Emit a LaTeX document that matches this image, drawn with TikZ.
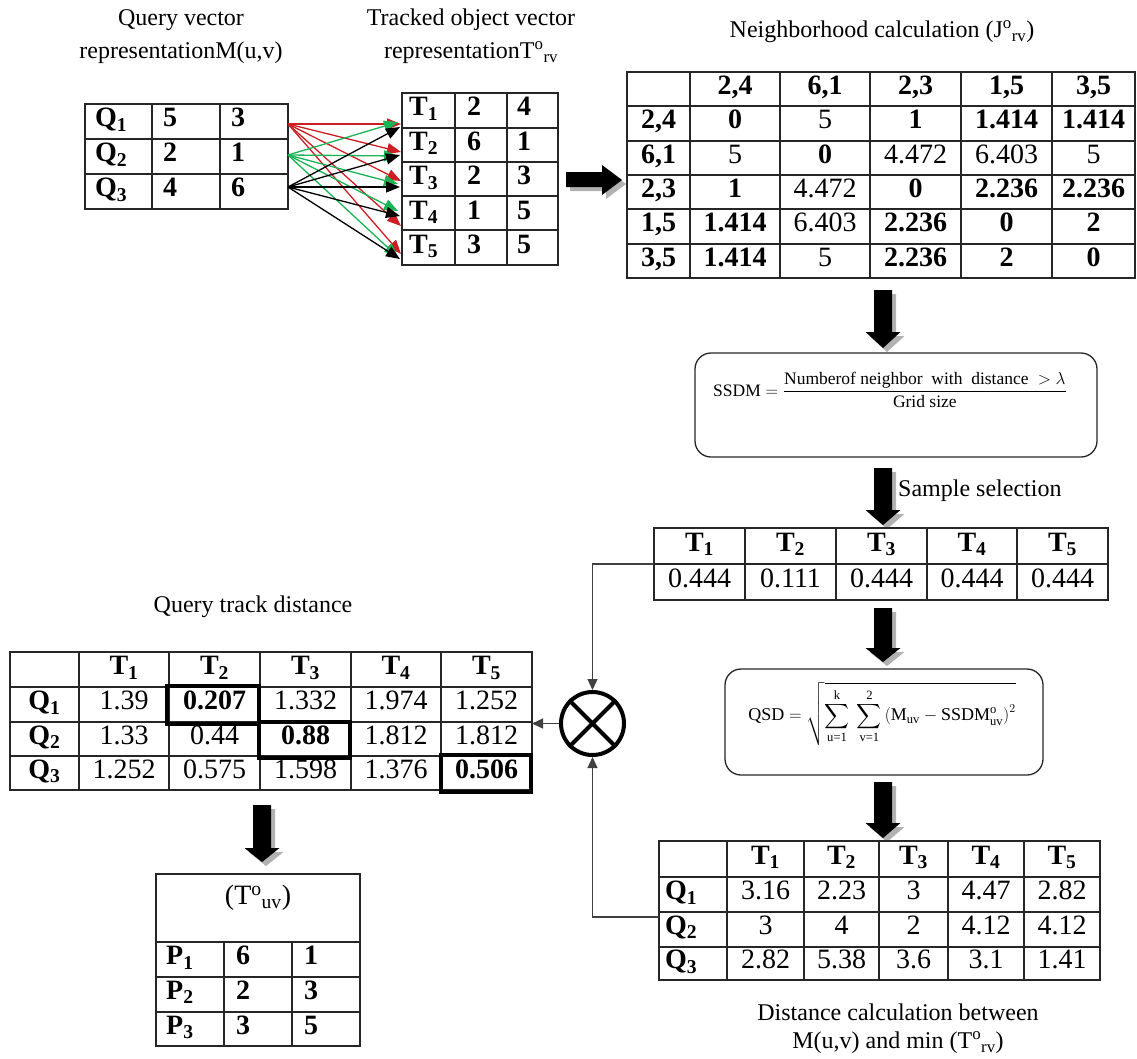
\documentclass[tikz,border=0pt]{standalone}
\usepackage{amsmath}
\usepackage{fontspec}
\setmainfont{Liberation Serif}
\usetikzlibrary{arrows.meta}
\definecolor{ared}{RGB}{205,30,35}
\definecolor{agreen}{RGB}{25,180,85}
\newcommand\blkdown[4]{%
  \fill[black!30] ({#1-9+4},{#2+4}) -- ({#1+9+4},{#2+4}) -- ({#1+9+4},{#3+4}) -- ({#1+17.5+4},{#3+4}) -- ({#1+4},{#4+4}) -- ({#1-17.5+4},{#3+4}) -- ({#1-9+4},{#3+4}) -- cycle;
  \fill[black] ({#1-9},{#2}) -- ({#1+9},{#2}) -- ({#1+9},{#3}) -- ({#1+17.5},{#3}) -- (#1,#4) -- ({#1-17.5},{#3}) -- ({#1-9},{#3}) -- cycle;}
\newcommand\Tor{T\textsuperscript{o}\textsubscript{rv}}
\begin{document}
\begin{tikzpicture}[x=1pt,y=-1pt,
  ttl/.style={font=\fontsize{24}{26}\selectfont, inner sep=0},
  cb/.style={font=\fontsize{28}{30}\selectfont\bfseries, inner sep=0, anchor=mid, yshift=-3pt},
  cn/.style={font=\fontsize{28}{30}\selectfont, inner sep=0, anchor=mid, yshift=-3pt},
  cbl/.style={cb, anchor=mid west},
  gl/.style={draw=black!85, line width=1.3pt},
  frame/.style={draw=black!85, line width=1.3pt, inner sep=0, outer sep=0},
  thickbox/.style={draw=black, line width=4pt},
  conn/.style={draw=black!75, line width=1.3pt, -{Triangle[length=11pt,width=10pt]}},
  qa/.style={line width=1.3pt, -{Triangle[length=14pt,width=11pt]}},
  fbox/.style={draw=black!85, line width=1.3pt, rounded corners=16pt, inner sep=0, outer sep=0}
]
\useasboundingbox (0,0) rectangle (1137,1058);

% ---------- titles ----------
\node[ttl] (t1a) at (181,20) {Query vector};
\node[ttl] (t1b) at (181,53) {representationM(u,v)};
\node[ttl] (t2a) at (471,20) {Tracked object vector};
\node[ttl] (t2b) at (471,53) {representation\Tor};
\node[ttl] (t3) at (882,32) {Neighborhood calculation (J\textsuperscript{o}\textsubscript{rv})};

% ---------- Query table ----------
\node[frame, minimum width=203pt, minimum height=105pt] (Qtab) at (186.5,156.5) {};
\foreach \xx in {152,220} \draw[gl] (\xx,104) -- (\xx,209);
\foreach \yy in {139,174} \draw[gl] (85,\yy) -- (288,\yy);
\foreach \ra/\xa/\xb [count=\i] in {1/5/3, 2/2/1, 3/4/6}{
  \pgfmathsetmacro\yy{121.5+35*(\i-1)}
  \node[cbl] (qc\i a) at (95,\yy) {Q\textsubscript{\ra}};
  \node[cbl] (qc\i b) at (163,\yy) {\xa};
  \node[cbl] (qc\i c) at (231,\yy) {\xb};
}

% ---------- Tracked table ----------
\node[frame, minimum width=156pt, minimum height=172pt] (Ttab) at (480,179) {};
\foreach \xx in {455,507} \draw[gl] (\xx,93) -- (\xx,265);
\foreach \yy in {128,162,196,230} \draw[gl] (402,\yy) -- (558,\yy);
\foreach \ra/\xa/\xb [count=\i] in {1/2/4, 2/6/1, 3/2/3, 4/1/5, 5/3/5}{
  \pgfmathsetmacro\yy{110.5+34.4*(\i-1)}
  \node[cbl] (tc\i a) at (409,\yy) {T\textsubscript{\ra}};
  \node[cbl] (tc\i b) at (467,\yy) {\xa};
  \node[cbl] (tc\i c) at (517,\yy) {\xb};
}

% ---------- coloured arrows ----------
\coordinate (s1) at (288,124);
\coordinate (s2) at (288,155);
\coordinate (s3) at (288,187);
\foreach \ty [count=\i] in {124,152,181,226,254} \coordinate (r\i) at (401,\ty);
\foreach \ty [count=\i] in {122,156,184,211,257} \coordinate (g\i) at (398,\ty);
\foreach \ty [count=\i] in {127,155,187,216,259} \coordinate (k\i) at (400,\ty);
\foreach \i in {1,...,5} \draw[qa, ared] (s1) -- (r\i);
\foreach \i in {1,...,5} \draw[qa, agreen] (s2) -- (g\i);
\foreach \i in {1,...,5} \draw[qa, black] (s3) -- (k\i);

% ---------- right block arrow ----------
\fill[black!30] (570,176) -- (606,176) -- (606,169) -- (626,184) -- (606,199) -- (606,191) -- (570,191) -- cycle;
\fill[black] (566,172) -- (602,172) -- (602,165) -- (622,180) -- (602,195) -- (602,187) -- (566,187) -- cycle;

% ---------- Neighborhood table ----------
\node[frame, minimum width=508pt, minimum height=206pt] (Ntab) at (881,175) {};
\foreach \xx in {690,780,870,961,1052} \draw[gl] (\xx,72) -- (\xx,278);
\foreach \yy in {106,141,175,209,244} \draw[gl] (627,\yy) -- (1135,\yy);
% header
\node[cb] (n01) at (735,89) {2,4};
\node[cb] (n02) at (825,89) {6,1};
\node[cb] (n03) at (915.5,89) {2,3};
\node[cb] (n04) at (1006.5,89) {1,5};
\node[cb] (n05) at (1093.5,89) {3,5};
% row 2,4
\node[cb] (n10) at (658.5,123.5) {2,4};
\node[cb] (n11) at (735,123.5) {0};
\node[cn] (n12) at (825,123.5) {5};
\node[cb] (n13) at (915.5,123.5) {1};
\node[cb] (n14) at (1006.5,123.5) {1.414};
\node[cb] (n15) at (1093.5,123.5) {1.414};
% row 6,1
\node[cb] (n20) at (658.5,158) {6,1};
\node[cn] (n21) at (735,158) {5};
\node[cb] (n22) at (825,158) {0};
\node[cn] (n23) at (915.5,158) {4.472};
\node[cn] (n24) at (1006.5,158) {6.403};
\node[cn] (n25) at (1093.5,158) {5};
% row 2,3
\node[cb] (n30) at (658.5,192) {2,3};
\node[cb] (n31) at (735,192) {1};
\node[cn] (n32) at (825,192) {4.472};
\node[cb] (n33) at (915.5,192) {0};
\node[cb] (n34) at (1006.5,192) {2.236};
\node[cb] (n35) at (1093.5,192) {2.236};
% row 1,5
\node[cb] (n40) at (658.5,226.5) {1,5};
\node[cb] (n41) at (735,226.5) {1.414};
\node[cn] (n42) at (825,226.5) {6.403};
\node[cb] (n43) at (915.5,226.5) {2.236};
\node[cb] (n44) at (1006.5,226.5) {0};
\node[cb] (n45) at (1093.5,226.5) {2};
% row 3,5
\node[cb] (n50) at (658.5,261) {3,5};
\node[cb] (n51) at (735,261) {1.414};
\node[cn] (n52) at (825,261) {5};
\node[cb] (n53) at (915.5,261) {2.236};
\node[cb] (n54) at (1006.5,261) {2};
\node[cb] (n55) at (1093.5,261) {0};

% ---------- SSDM box ----------
\blkdown{883}{290}{332}{348}
\node[fbox, minimum width=402pt, minimum height=104pt] (F1) at (896,405) {};
\node[inner sep=0, font=\fontsize{17.5}{20}\selectfont] (f1) at (890,390)
  {$\text{SSDM}=\dfrac{\text{Numberof neighbor\ \ with\ \ distance }>\lambda}{\text{Grid size}}$};

% ---------- Sample selection ----------
\blkdown{883}{468}{510}{525}
\node[ttl, anchor=west] (ss) at (898,491) {Sample selection};
\node[frame, minimum width=454pt, minimum height=72pt] (S) at (881,564) {};
\foreach \xx in {745,836,927,1017} \draw[gl] (\xx,528) -- (\xx,600);
\draw[gl] (654,564) -- (1108,564);
\foreach \xx/\vv [count=\i] in {699.5/0.444, 790.5/0.111, 881.5/0.444, 972/0.444, 1062.5/0.444}{
  \node[cb] (sh\i) at (\xx,546) {T\textsubscript{\i}};
  \node[cn] (sv\i) at (\xx,582) {\vv};
}

% ---------- QSD box ----------
\blkdown{883}{608}{648}{662}
\node[fbox, minimum width=318pt, minimum height=106pt] (F2) at (884,722) {};
\node[inner sep=0, font=\fontsize{18}{21}\selectfont] (f2) at (882,714)
  {$\displaystyle \text{QSD}=\sqrt{\sum_{\text{u=1}}^{\text{k}}\ \sum_{\text{v=1}}^{\text{2}}\left(\text{M}_{\text{uv}}-\text{SSDM}^{\text{o}}_{\text{uv}}\right)^{2}}$};

% ---------- Distance table ----------
\blkdown{883}{782}{823}{838}
\node[frame, minimum width=441pt, minimum height=139pt] (D) at (879.5,910.5) {};
\foreach \xx in {727,804,879,948,1024} \draw[gl] (\xx,841) -- (\xx,980);
\foreach \yy in {877,912,947} \draw[gl] (659,\yy) -- (1100,\yy);
\foreach \xx [count=\i] in {765.5,841.5,913.5,986,1062} \node[cb] (dh\i) at (\xx,859) {T\textsubscript{\i}};
\foreach \ra/\va/\vb/\vc/\vd/\ve [count=\i] in {1/3.16/2.23/3/4.47/2.82, 2/3/4/2/4.12/4.12, 3/2.82/5.38/3.6/3.1/1.41}{
  \pgfmathsetmacro\yy{894.5+34.5*(\i-1)}
  \node[cbl] (d\i q) at (665,\yy) {Q\textsubscript{\ra}};
  \node[cn] (d\i a) at (765.5,\yy) {\va};
  \node[cn] (d\i b) at (841.5,\yy) {\vb};
  \node[cn] (d\i c) at (913.5,\yy) {\vc};
  \node[cn] (d\i d) at (986,\yy) {\vd};
  \node[cn] (d\i e) at (1062,\yy) {\ve};
}
\node[ttl] (c1) at (898,1012) {Distance calculation between};
\node[ttl] (c2) at (898,1043) {M(u,v) and min (\Tor)};

% ---------- multiplier ----------
\node[circle, draw=black, line width=4pt, minimum size=63pt, inner sep=0] (X) at (592.5,723.5) {};
\draw[line width=4pt] (X.north east) -- (X.south west);
\draw[line width=4pt] (X.north west) -- (X.south east);
\draw[conn] (S.west) -| (X.north);
\draw[conn] ([yshift=-6.5pt]D.west) -| (X.south);

% ---------- Query track distance table ----------
\node[ttl] (qtd) at (253,607) {Query track distance};
\node[frame, minimum width=522pt, minimum height=138pt] (QT) at (271,721) {};
\draw[conn] (X.west) -- (X.west -| QT.east);
\foreach \xx in {79,169,260,351,441} \draw[gl] (\xx,652) -- (\xx,790);
\foreach \yy in {687,722,756} \draw[gl] (10,\yy) -- (532,\yy);
\foreach \xx [count=\i] in {124,214.5,305.5,396,486.5} \node[cb] (qh\i) at (\xx,669.5) {T\textsubscript{\i}};
\node[cb] (qr1) at (44.5,704.5) {Q\textsubscript{1}};
\node[cb] (qr2) at (44.5,739) {Q\textsubscript{2}};
\node[cb] (qr3) at (44.5,773) {Q\textsubscript{3}};
\node[cn] (q11) at (124,704.5) {1.39};
\node[cb] (q12) at (214.5,704.5) {0.207};
\node[cn] (q13) at (305.5,704.5) {1.332};
\node[cn] (q14) at (396,704.5) {1.974};
\node[cn] (q15) at (486.5,704.5) {1.252};
\node[cn] (q21) at (124,739) {1.33};
\node[cn] (q22) at (214.5,739) {0.44};
\node[cb] (q23) at (305.5,739) {0.88};
\node[cn] (q24) at (396,739) {1.812};
\node[cn] (q25) at (486.5,739) {1.812};
\node[cn] (q31) at (124,773) {1.252};
\node[cn] (q32) at (214.5,773) {0.575};
\node[cn] (q33) at (305.5,773) {1.598};
\node[cn] (q34) at (396,773) {1.376};
\node[cb] (q35) at (486.5,773) {0.506};
\draw[thickbox] (167,686) rectangle (259,724);
\draw[thickbox] (259,722) rectangle (350,758);
\draw[thickbox] (441,755) rectangle (531,792);

% ---------- result table ----------
\blkdown{262}{805}{848}{862}
\node[frame, minimum width=204pt, minimum height=172pt] (P) at (258,960) {};
\foreach \yy in {942,977,1012} \draw[gl] (156,\yy) -- (360,\yy);
\foreach \xx in {224,292} \draw[gl] (\xx,942) -- (\xx,1046);
\node[cn] (ph) at (258,899) {(T\textsuperscript{o}\textsubscript{uv})};
\foreach \ra/\xa/\xb [count=\i] in {1/6/1, 2/2/3, 3/3/5}{
  \pgfmathsetmacro\yy{959.5+34.7*(\i-1)}
  \node[cbl] (p\i a) at (166,\yy) {P\textsubscript{\ra}};
  \node[cbl] (p\i b) at (236,\yy) {\xa};
  \node[cbl] (p\i c) at (304,\yy) {\xb};
}
\end{tikzpicture}
\end{document}
